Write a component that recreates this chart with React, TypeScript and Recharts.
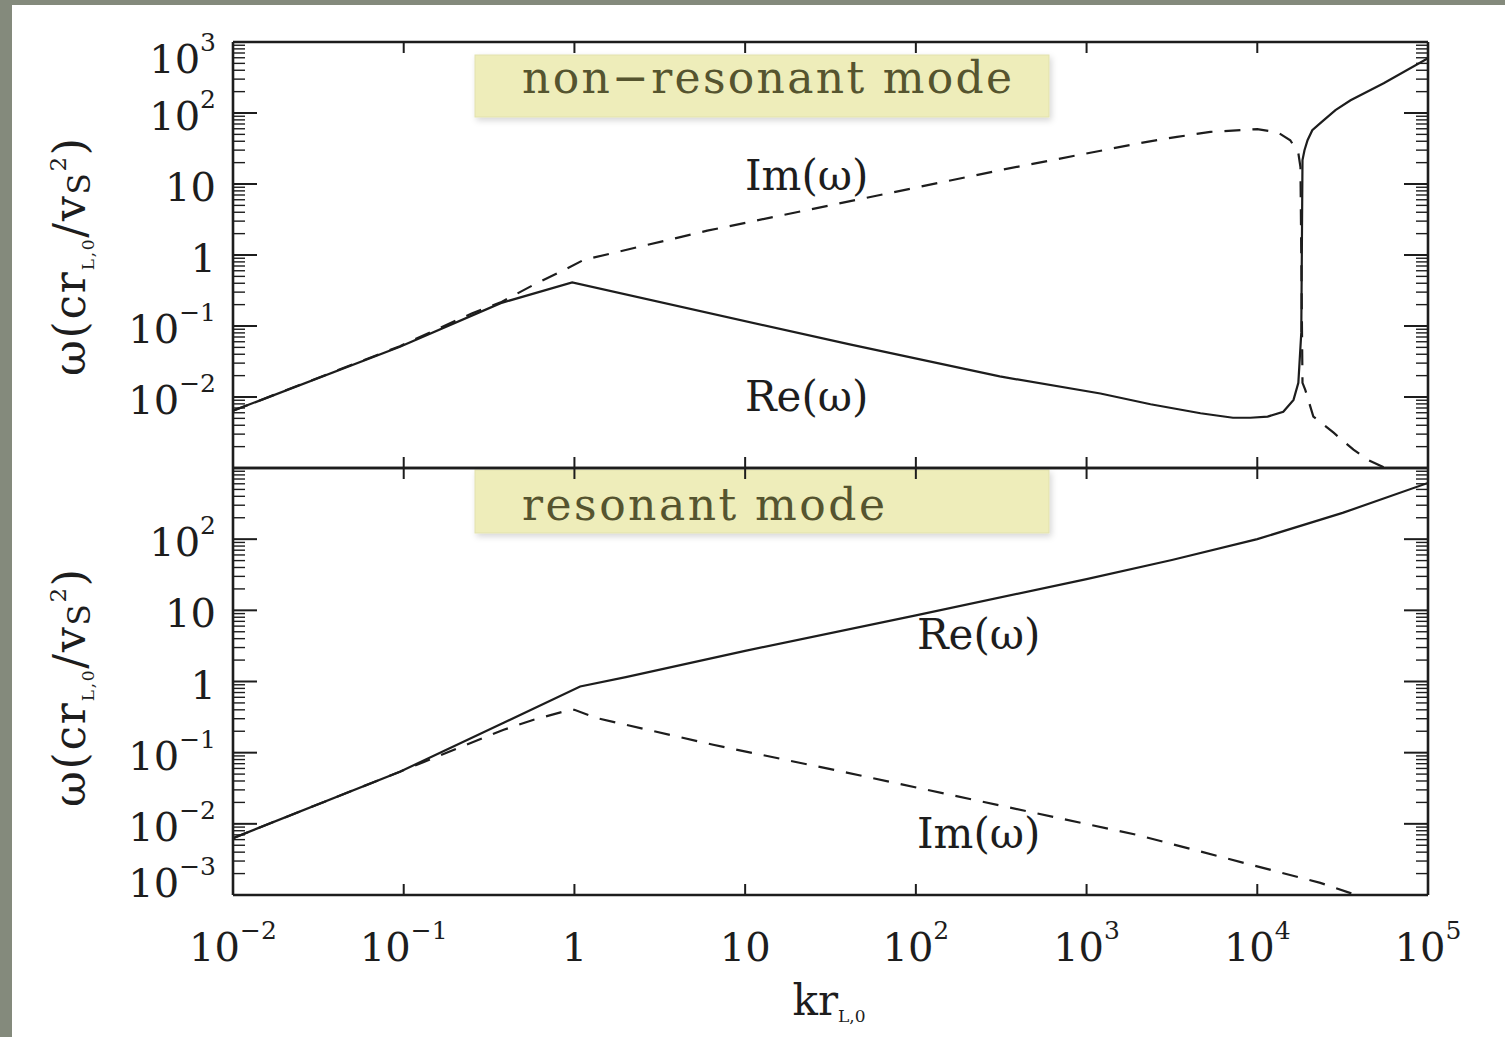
import React from "react";
import { LineChart, Line, XAxis, YAxis } from "recharts";

const W = 1505;
const H = 1037;
const PLOT_LEFT = 233;
const PLOT_RIGHT = 1428;
const TOP_Y0 = 42;
const MID_Y = 468;
const BOT_Y1 = 895;

const FONT = "'DejaVu Serif', serif";
const INK = "#1d1d1d";

// x axis (k r_L,0) and y axis (omega) decades
const kTicks = [1e-2, 1e-1, 1, 10, 1e2, 1e3, 1e4, 1e5];
const omegaDecades = [1e-3, 1e-2, 1e-1, 1, 10, 1e2, 1e3];
const topLabelled = [1e-2, 1e-1, 1, 10, 1e2, 1e3];
const bottomLabelled = [1e-3, 1e-2, 1e-1, 1, 10, 1e2];

// non-resonant mode, Re(omega) solid
const nrReK = [0.01, 0.095, 0.37, 0.97, 41, 310, 1205, 2370, 4650, 7200, 9100, 11500, 14200, 16300, 17400, 18100, 18400, 18900, 19700, 21000, 23400, 28700, 35200, 55000, 100000];
const nrReW = [0.0064, 0.051, 0.21, 0.41, 0.055, 0.0195, 0.0112, 0.0079, 0.0059, 0.0051, 0.0051, 0.0053, 0.0062, 0.0091, 0.0158, 0.08, 21.7, 29.9, 41.4, 57.3, 72, 110, 151, 262, 589];
// non-resonant mode, Im(omega) dashed
const nrImK = [0.01, 0.095, 0.25, 0.37, 0.574, 0.83, 1.13, 6.0, 313, 2260, 3390, 5310, 10000, 13100, 15600, 17400, 17900, 18400, 19100, 21300, 28000, 36600, 44300, 54200, 63000];
const nrImW = [0.0064, 0.052, 0.15, 0.215, 0.378, 0.582, 0.85, 2.2, 15.7, 39.3, 46.1, 54.2, 59.2, 53.7, 41.4, 27.2, 17.3, 0.0158, 0.0126, 0.0053, 0.00314, 0.00181, 0.00131, 0.00104, 0.00085];

// resonant mode, Re(omega) solid
const rReK = [0.01, 0.095, 0.385, 1.08, 2, 10, 100, 1000, 3160, 10000, 31600, 100000];
const rReW = [0.0063, 0.054, 0.263, 0.85, 1.15, 2.69, 8.5, 27.5, 51, 100, 234, 617];
// resonant mode, Im(omega) dashed
const rImK = [0.01, 0.095, 0.385, 0.577, 0.906, 1.0, 1.36, 6.5, 39.4, 1980, 23400, 38000];
const rImW = [0.0063, 0.054, 0.21, 0.29, 0.39, 0.4, 0.305, 0.129, 0.0525, 0.00698, 0.00148, 0.001];

const toSeries = (ks: number[], ws: number[]) => ks.map((k, i) => ({ k, w: ws[i] }));

const minorTicks = omegaDecades.slice(0, -1).flatMap((d) => [2, 3, 4, 5, 6, 7, 8, 9].map((m) => m * d));
const yTicks = [...omegaDecades, ...minorTicks].sort((a, b) => a - b);

const isDecade = (v: number) => {
  const e = Math.log10(v);
  return Math.abs(e - Math.round(e)) < 1e-6;
};

const decadeLabel = (v: number): [string, string] => {
  const e = Math.round(Math.log10(v));
  if (e === 0) return ["1", ""];
  if (e === 1) return ["10", ""];
  return ["10", e < 0 ? `\u2212${-e}` : `${e}`];
};

const PowerText = ({ x, y, v, anchor }: { x: number; y: number; v: number; anchor: "end" | "middle" }) => {
  const [b, e] = decadeLabel(v);
  return (
    <text x={x} y={y} textAnchor={anchor} fontFamily={FONT} fontSize={40} fill={INK}>
      {b}
      {e && (
        <tspan fontSize={25} dy={-22}>
          {e}
        </tspan>
      )}
    </text>
  );
};

const makeYTick = (side: "left" | "right", labelled: number[], y0: number, y1: number) => (props: any) => {
  const { y, payload } = props;
  const v = payload.value;
  const major = isDecade(v);
  const len = major ? 24 : 12;
  const x0 = side === "left" ? PLOT_LEFT : PLOT_RIGHT;
  const x1 = side === "left" ? x0 + len : x0 - len;
  const showLabel = side === "left" && major && labelled.some((l) => Math.abs(l / v - 1) < 1e-6);
  // keep the labels at the panel edges inside the frame
  let base = y + 17;
  if (Math.abs(y - y0) < 2) base = y + 31;
  if (Math.abs(y - y1) < 2) base = y + 2;
  return (
    <g>
      <line x1={x0} x2={x1} y1={y} y2={y} stroke={INK} strokeWidth={major ? 2 : 1.4} />
      {showLabel && <PowerText x={216} y={base} v={v} anchor="end" />}
    </g>
  );
};

const makeXTick = (edgeY: number, dir: number, withLabel: boolean) => (props: any) => {
  const { x, payload } = props;
  return (
    <g>
      <line x1={x} x2={x} y1={edgeY} y2={edgeY + dir * 11} stroke={INK} strokeWidth={2} />
      {withLabel && <PowerText x={x} y={edgeY + 66} v={payload.value} anchor="middle" />}
    </g>
  );
};

const frame = { stroke: INK, strokeWidth: 2.6 };

type PanelProps = {
  y0: number;
  y1: number;
  re: { k: number; w: number }[];
  im: { k: number; w: number }[];
  labelled: number[];
  xLabels: boolean;
};

const Panel = ({ y0, y1, re, im, labelled, xLabels }: PanelProps) => (
  <div style={{ position: "absolute", left: 0, top: 0 }}>
    <LineChart width={W} height={H} margin={{ top: y0 - 1, bottom: H - y1 - 1, left: 0, right: 0 }}>
      <XAxis
        xAxisId="b"
        dataKey="k"
        type="number"
        scale="log"
        domain={[1e-2, 1e5]}
        ticks={kTicks}
        interval={0}
        orientation="bottom"
        height={1}
        allowDataOverflow
        axisLine={frame}
        tickLine={false}
        tick={makeXTick(y1, -1, xLabels)}
      />
      <XAxis
        xAxisId="t"
        dataKey="k"
        type="number"
        scale="log"
        domain={[1e-2, 1e5]}
        ticks={kTicks}
        interval={0}
        orientation="top"
        height={1}
        allowDataOverflow
        axisLine={frame}
        tickLine={false}
        tick={makeXTick(y0, 1, false)}
      />
      <YAxis
        yAxisId="l"
        type="number"
        scale="log"
        domain={[1e-3, 1e3]}
        ticks={yTicks}
        interval={0}
        orientation="left"
        width={PLOT_LEFT}
        allowDataOverflow
        axisLine={frame}
        tickLine={false}
        tick={makeYTick("left", labelled, y0, y1)}
      />
      <YAxis
        yAxisId="r"
        type="number"
        scale="log"
        domain={[1e-3, 1e3]}
        ticks={yTicks}
        interval={0}
        orientation="right"
        width={W - PLOT_RIGHT}
        allowDataOverflow
        axisLine={frame}
        tickLine={false}
        tick={makeYTick("right", labelled, y0, y1)}
      />
      <Line
        xAxisId="b"
        yAxisId="l"
        data={re}
        dataKey="w"
        type="linear"
        dot={false}
        stroke={INK}
        strokeWidth={2.2}
        isAnimationActive={false}
      />
      <Line
        xAxisId="b"
        yAxisId="l"
        data={im}
        dataKey="w"
        type="linear"
        dot={false}
        stroke={INK}
        strokeWidth={2.2}
        strokeDasharray="16 12"
        isAnimationActive={false}
      />
    </LineChart>
  </div>
);

const YTitle = ({ cy }: { cy: number }) => (
  <text
    transform={`rotate(-90 85 ${cy})`}
    x={85}
    y={cy}
    textAnchor="middle"
    fontFamily={FONT}
    fontSize={44}
    fill={INK}
    textLength={238}
    lengthAdjust="spacing"
  >
    ω(cr
    <tspan fontSize={17} dy={9}>
      L,0
    </tspan>
    <tspan dy={-9}>/v</tspan>
    <tspan fontSize={31} dy={5}>
      S
    </tspan>
    <tspan fontSize={23} dy={-24}>
      2
    </tspan>
    <tspan dy={19}>)</tspan>
  </text>
);

const BOX_FILL = "#eeedba";
const BOX_INK = "#55542f";

export default function App() {
  return (
    <div style={{ position: "absolute", left: 0, top: 0, width: W, height: H, background: "#fff", overflow: "hidden" }}>
      <div style={{ position: "absolute", left: 0, top: 0, width: 12, height: H, background: "#848a7c" }} />
      <div style={{ position: "absolute", left: 0, top: 0, width: W, height: 5, background: "#848a7c" }} />
      <svg width={W} height={H} style={{ position: "absolute", left: 0, top: 0 }}>
        <defs>
          <filter id="boxShadow" x="-5%" y="-20%" width="112%" height="150%">
            <feDropShadow dx="2" dy="3" stdDeviation="3" floodColor="#000" floodOpacity="0.16" />
          </filter>
        </defs>
        <rect x={475} y={55} width={574} height={62} fill={BOX_FILL} stroke="#e2e1ad" filter="url(#boxShadow)" />
        <rect x={475} y={470} width={574} height={63} fill={BOX_FILL} stroke="#e2e1ad" filter="url(#boxShadow)" />
      </svg>
      <Panel y0={TOP_Y0} y1={MID_Y} re={toSeries(nrReK, nrReW)} im={toSeries(nrImK, nrImW)} labelled={topLabelled} xLabels={false} />
      <Panel y0={MID_Y} y1={BOT_Y1} re={toSeries(rReK, rReW)} im={toSeries(rImK, rImW)} labelled={bottomLabelled} xLabels={true} />
      <svg width={W} height={H} style={{ position: "absolute", left: 0, top: 0, pointerEvents: "none" }}>
        <text x={522} y={93} fontFamily={FONT} fontSize={44} fill={BOX_INK} textLength={490} lengthAdjust="spacing">
          non−resonant mode
        </text>
        <text x={522} y={520} fontFamily={FONT} fontSize={44} fill={BOX_INK} textLength={363} lengthAdjust="spacing">
          resonant mode
        </text>
        <g fontFamily={FONT} fontSize={42} fill={INK}>
          <text x={745} y={190}>Im(ω)</text>
          <text x={745} y={411}>Re(ω)</text>
          <text x={917} y={649}>Re(ω)</text>
          <text x={917} y={848}>Im(ω)</text>
        </g>
        <YTitle cy={257} />
        <YTitle cy={688} />
        <text x={829} y={1015} textAnchor="middle" fontFamily={FONT} fontSize={42} fill={INK}>
          kr
          <tspan fontSize={17} dy={7}>
            L,0
          </tspan>
        </text>
      </svg>
    </div>
  );
}
